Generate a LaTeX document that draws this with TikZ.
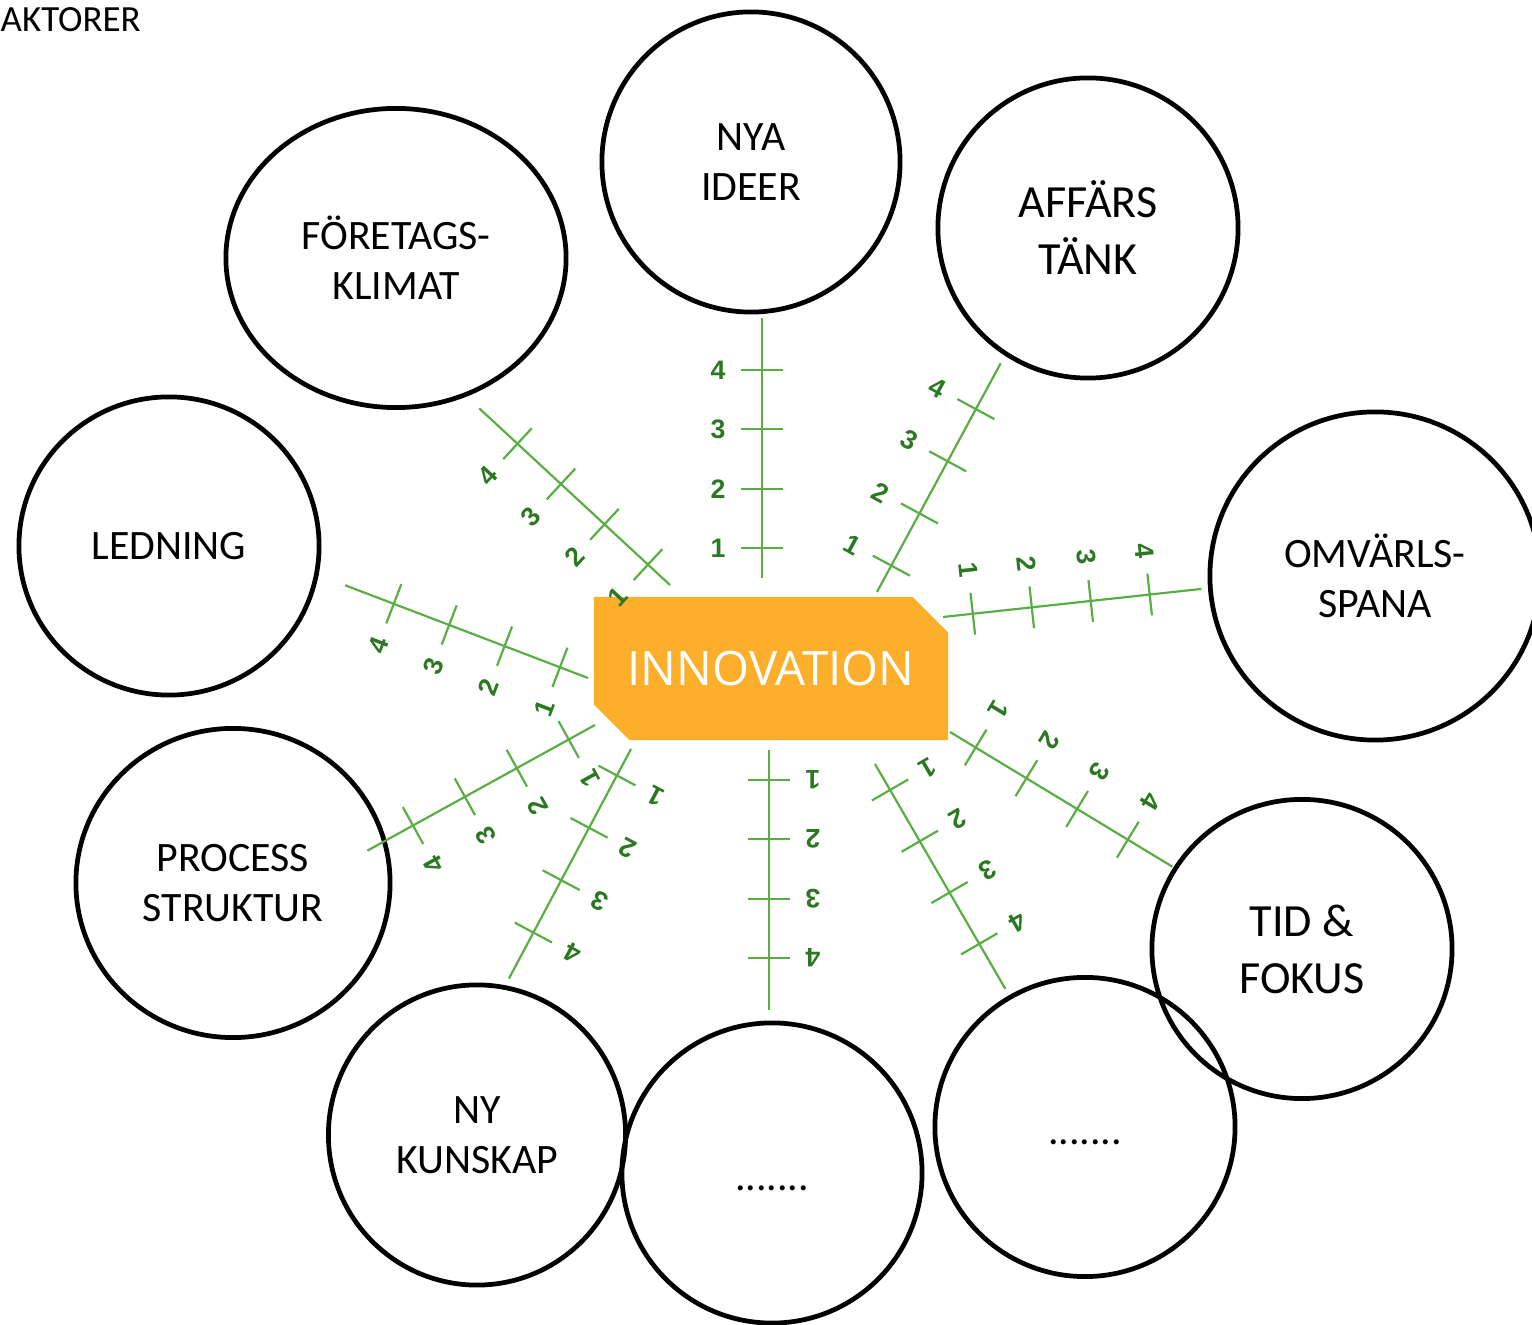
\documentclass[tikz,border=0pt]{standalone}
\usepackage{fontspec}
\setmainfont{Carlito}
\newfontfamily\innofont{Open Sans}
\newfontfamily\numfont{Liberation Sans}
\usetikzlibrary{shapes.geometric,shapes.misc}
\definecolor{scalegreen}{RGB}{88,174,66}
\definecolor{numgreen}{RGB}{44,120,34}
\definecolor{innoorange}{RGB}{253,174,43}

\begin{document}
\begin{tikzpicture}[x=0.01cm, y=-0.01cm]
    \tikzset{
        ring/.style={ellipse, draw=black, line width=1.35pt, inner sep=0pt, align=center, font=\fontsize{11.9}{14.2}\selectfont},
        bigring/.style={ring, font=\fontsize{13.1}{16.2}\selectfont},
        innobox/.style={chamfered rectangle, chamfered rectangle corners={north east, south west}, chamfered rectangle xsep=0.21cm, chamfered rectangle ysep=0.18cm, fill=innoorange, text=white, minimum width=3.54cm, minimum height=1.43cm, inner sep=0pt, font=\innofont\fontsize{13.5}{15}\selectfont},
        scaleline/.style={draw=scalegreen, line width=0.62pt},
        scalenum/.style={text=numgreen, inner sep=0pt, font=\numfont\bfseries\fontsize{7.6}{8}\selectfont},
    }
    \useasboundingbox (0,0) rectangle (1532,1325);

    % Rubrik:
    \node[anchor=base west, inner sep=0pt, font=\fontsize{10.5}{12}\selectfont] (aktorer) at (0,32) {AKTORER};

    % Cirklar:
    \node[ring, minimum width=2.98cm, minimum height=3.00cm] (ideer) at (751,162) {NYA\\IDEER};
    \node[bigring, minimum width=3.00cm, minimum height=3.00cm] (affars) at (1088,228) {AFFÄRS\\TÄNK};
    \node[ring, minimum width=3.40cm, minimum height=2.99cm] (klimat) at (396,258) {FÖRETAGS-\\KLIMAT};
    \node[ring, minimum width=3.00cm, minimum height=2.98cm] (ledning) at (169,546) {LEDNING};
    \node[ring, minimum width=3.30cm, minimum height=3.28cm] (omvarld) at (1375,576) {OMVÄRLS-\\SPANA};
    \node[ring, minimum width=3.14cm, minimum height=3.09cm] (process) at (233,883) {PROCESS\\STRUKTUR};
    \node[bigring, minimum width=3.00cm, minimum height=2.99cm] (tid) at (1302,949) {TID \&\\FOKUS};
    \node[ring, minimum width=2.97cm, minimum height=3.00cm] (kunskap) at (477,1135) {NY\\KUNSKAP};
    \node[ring, minimum width=3.00cm, minimum height=3.00cm] (tom-1) at (772,1173) {\rule{0pt}{10pt}.......};
    \node[ring, minimum width=3.00cm, minimum height=2.99cm] (tom-2) at (1085,1127) {\rule{0pt}{10pt}.......};

    % Mitten:
    \node[innobox] (innovation) at (771,668.5) {INNOVATION};

    % Skalor:
    \foreach \n/\x/\y/\a in {1/762/578/90, 2/877/592/61.6, 3/943/617/6.2, 4/670/585/137.2, 5/588/678/159.1,
                             6/595/725/208.9, 7/631/749/242, 8/769/750/270, 9/875/764/300.1, 10/950/732/328.8} {
        \begin{scope}[shift={(\x,\y)}, rotate=\a]
            \coordinate (skala-\n-a) at (0,0);
            \coordinate (skala-\n-b) at (260,0);
            \draw[scaleline] (skala-\n-a) -- (skala-\n-b);
            \foreach \k in {1,...,4} {
                \pgfmathsetmacro{\d}{30 + 59.3*(\k-1)}
                \draw[scaleline] (\d,-21) -- (\d,21);
                \node[scalenum, rotate=\a-90] (tal-\n-\k) at (\d,-44) {\k};
            }
        \end{scope}
    }
\end{tikzpicture}
\end{document}
